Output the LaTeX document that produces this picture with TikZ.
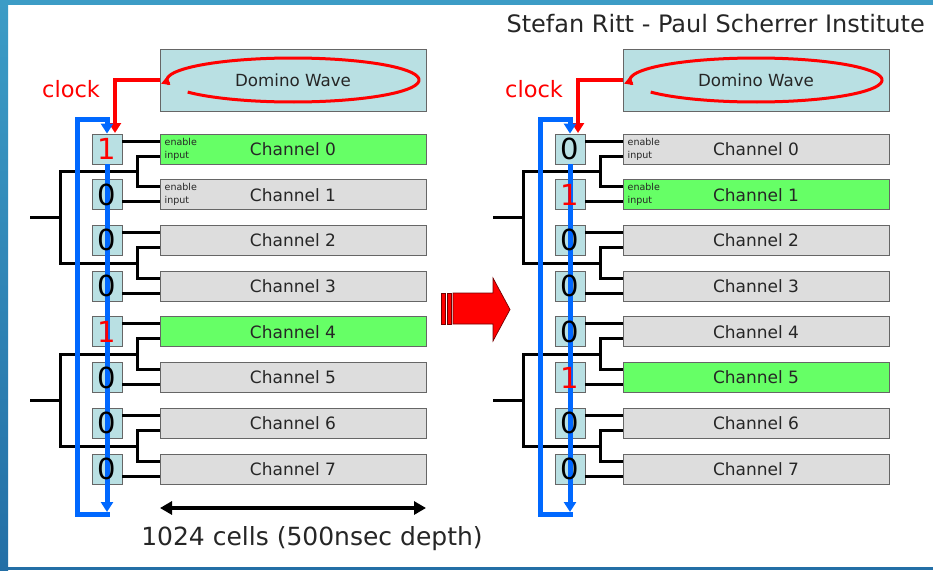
\documentclass[tikz,border=0pt]{standalone}
\usepackage{fontspec}
\setmainfont{DejaVu Sans}
\usetikzlibrary{arrows.meta,calc}
\definecolor{cellblue}{HTML}{B9E0E3}
\definecolor{chgreen}{HTML}{66FF66}
\definecolor{chgray}{HTML}{DDDDDD}
\definecolor{loopblue}{HTML}{0068FF}
\definecolor{framea}{HTML}{3C9CC6}
\definecolor{frameb}{HTML}{236FA6}
\definecolor{txt}{HTML}{262626}
\tikzset{
  dombox/.style={draw=black!60, fill=cellblue, minimum width=266pt, minimum height=62pt, inner sep=0pt, line width=1pt, text=txt, font=\fontsize{16.7}{20}\selectfont},
  cellbox/.style={draw=black!60, fill=cellblue, minimum width=30pt, minimum height=30pt, inner sep=0pt, line width=0.8pt},
  celltext/.style={inner sep=0pt, font=\fontsize{29}{30}\selectfont},
  chanbox/.style={draw=black!60, minimum width=266pt, minimum height=30pt, inner sep=0pt, line width=1pt, text=txt, font=\fontsize{17}{20}\selectfont},
  enlabel/.style={anchor=west, align=left, inner sep=0pt, text=txt, font=\fontsize{9.5}{13}\selectfont},
  wire/.style={line width=3pt, black},
  bluewire/.style={line width=5pt, loopblue, -{Triangle[length=10pt,width=12pt]}},
  redwire/.style={line width=4.5pt, red, -{Triangle[length=10pt,width=12pt]}},
  wavewire/.style={line width=3pt, red, -{Triangle[length=8pt,width=9pt]}},
  clocklabel/.style={anchor=base west, inner sep=0pt, text=red, font=\fontsize{22.5}{26}\selectfont},
  dimarrow/.style={line width=4pt, black, {Triangle[length=12pt,width=13pt]}-{Triangle[length=12pt,width=13pt]}},
  bigarrow/.style={fill=red, draw=red!45!black, line width=0.7pt}
}
\begin{document}
\begin{tikzpicture}[x=1pt,y=-1pt]
\useasboundingbox (0,0) rectangle (933,570);
\fill[white] (0,0) rectangle (933,570);
% frame
\shade[top color=framea, bottom color=frameb] (0,0) rectangle (8,570);
\fill[framea] (0,0) rectangle (933,5);
\fill[frameb] (0,567) rectangle (933,570);

\node[anchor=base east, inner sep=0pt, text=txt, font=\fontsize{24}{28}\selectfont] (title) at (925,32) {Stefan Ritt - Paul Scherrer Institute};

\foreach \p/\dx/\vals in {L/0/{1,0,0,0,1,0,0,0}, R/463/{0,1,0,0,0,1,0,0}} {
\begin{scope}[xshift=\dx]
  \node[dombox] (\p dom) at (293,80) {Domino Wave};
  \draw[wavewire] plot[domain=146.7:-193.3, samples=120] ({293+126*cos(\x)}, {80+22*sin(\x)});
  \node[clocklabel] (\p clk) at (42,97) {clock};
  \coordinate (\p ck) at (115,133);
  \draw[redwire] (\p dom.west) -| (\p ck);
  \foreach \v [count=\i from 0] in \vals {
    \pgfmathsetmacro\cy{149+45.714*\i}
    \ifnum\v=1 \def\col{chgreen}\else \def\col{chgray}\fi
    \node[chanbox, fill=\col] (\p ch\i) at (293,\cy) {Channel \i};
    \node[cellbox] (\p c\i) at (107,\cy) {};
  }
  \node[enlabel] (\p en0) at ($(\p ch0.west)+(5,0)$) {enable\\input};
  \node[enlabel] (\p en1) at ($(\p ch1.west)+(5,0)$) {enable\\input};
  % wires
  \foreach \i in {0,2,4,6} {
    \pgfmathtruncatemacro\j{\i+1}
    \pgfmathsetmacro\ym{149+45.714*\i+22.857}
    \coordinate (\p j\i) at (137,\ym);
    \draw[wire] ($(\p c\i.east)+(0,-8)$) -- ($(\p ch\i.west)+(0,-8)$);
    \draw[wire] ($(\p c\j.east)+(0,7)$) -- ($(\p ch\j.west)+(0,7)$);
    \draw[wire] ($(\p ch\i.west)+(0,7)$) -| (\p j\i) |- ($(\p ch\j.west)+(0,-8)$);
  }
  \coordinate (\p g0) at (60,217.7);
  \coordinate (\p s0) at (30,217.7);
  \coordinate (\p g1) at (60,400.6);
  \coordinate (\p s1) at (30,400.6);
  \draw[wire] (\p j0) -| (\p g0) |- (\p j2);
  \draw[wire] (\p s0) -- (\p g0);
  \draw[wire] (\p j4) -| (\p g1) |- (\p j6);
  \draw[wire] (\p s1) -- (\p g1);
  % blue loop
  \coordinate (\p ba) at (107,512);
  \coordinate (\p bb) at (109.5,514);
  \coordinate (\p bl) at (77,514);
  \coordinate (\p tl) at (77,119);
  \coordinate (\p tr) at (107,119);
  \draw[bluewire] (\p c0.south) -- (\p ba);
  \draw[bluewire] (\p bb) -- (\p bl) -- (\p tl) -- (\p tr) -- (\p c0.north);
  \foreach \v [count=\i from 0] in \vals {
    \ifnum\v=1 \def\tc{red}\else \def\tc{black}\fi
    \node[celltext, text=\tc] (\p t\i) at (\p c\i) {\v};
  }
\end{scope}
}

% width arrow and label
\coordinate (da) at (160,508);
\coordinate (db) at (426,508);
\draw[dimarrow] (da) -- (db);
\node[anchor=base, inner sep=0pt, text=txt, font=\fontsize{25}{28}\selectfont] (cells) at (312,545) {1024 cells (500nsec depth)};

% big red arrow
\draw[bigarrow] (441,293) rectangle (445.5,324);
\draw[bigarrow] (447,293) rectangle (451.5,324);
\draw[bigarrow] (453,293) -- (493,293) -- (493,278) -- (510,309.5) -- (493,341) -- (493,324) -- (453,324) -- cycle;
\end{tikzpicture}
\end{document}
